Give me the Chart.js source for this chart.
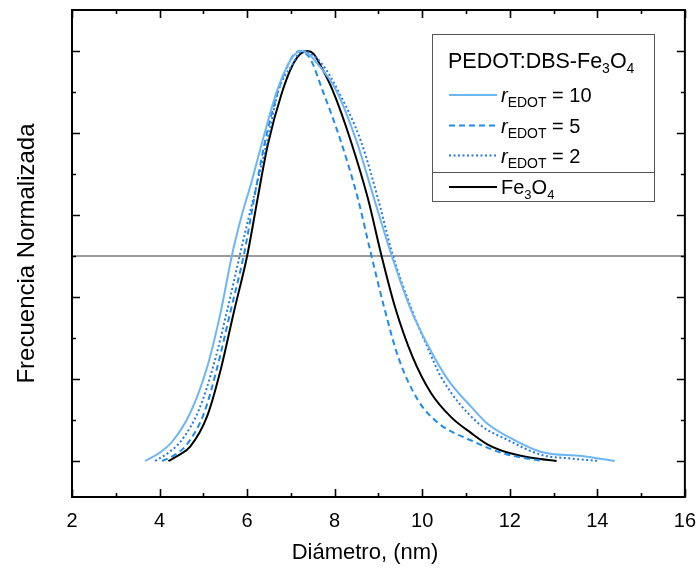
<!DOCTYPE html>
<html><head><meta charset="utf-8">
<script src="https://cdn.jsdelivr.net/npm/chart.js@4/dist/chart.umd.min.js"></script>
<style>html,body{margin:0;padding:0;background:#fff;}canvas{display:block;}</style>
</head><body>
<canvas id="c" width="696" height="575"></canvas>
<script>
// ---- data ----
const r10Diam = [3.67,4.00,4.31,4.70,5.09,5.39,5.66,5.88,6.10,6.35,6.69,6.95,7.10,7.25,7.40,7.60,8.03,8.50,8.90,9.29,9.72,10.15,10.59,11.12,11.50,11.96,12.72,13.64,14.40];
const r10Freq = [0,0.02,0.05,0.117,0.23,0.36,0.505,0.60,0.68,0.78,0.905,0.97,0.993,1.0,0.993,0.97,0.905,0.78,0.64,0.505,0.375,0.278,0.198,0.132,0.09,0.059,0.022,0.012,0];

const r5Diam = [4.06,4.35,4.62,5.01,5.31,5.61,5.93,6.16,6.39,6.70,6.95,7.08,7.22,7.34,7.45,7.72,8.14,8.53,8.83,9.13,9.45,9.90,10.36,11.12,11.81,12.30,12.77];
const r5Freq = [0,0.015,0.04,0.115,0.225,0.36,0.505,0.64,0.77,0.90,0.97,0.993,1.0,0.994,0.98,0.905,0.78,0.64,0.505,0.375,0.254,0.149,0.093,0.05,0.02,0.008,0];

const r2Diam = [3.90,4.20,4.50,4.90,5.25,5.55,5.84,6.05,6.28,6.50,6.72,7.05,7.17,7.30,7.45,7.70,8.07,8.60,8.99,9.32,9.74,10.15,10.43,11.27,11.96,12.72,13.40,14.05];
const r2Freq = [0,0.02,0.05,0.125,0.24,0.37,0.505,0.60,0.70,0.80,0.905,0.97,0.993,1.0,0.993,0.97,0.905,0.78,0.64,0.505,0.375,0.27,0.205,0.093,0.051,0.015,0.006,0];

const feDiam = [4.20,4.45,4.70,5.09,5.39,5.69,6.01,6.24,6.47,6.80,7.06,7.22,7.38,7.52,7.65,7.95,8.37,8.76,9.06,9.38,9.78,10.20,10.66,11.12,11.50,11.97,12.50,13.07];
const feFreq = [0,0.015,0.035,0.11,0.22,0.36,0.505,0.64,0.77,0.90,0.97,0.993,1.0,0.993,0.97,0.905,0.78,0.64,0.505,0.375,0.254,0.166,0.107,0.068,0.04,0.02,0.008,0];

const halfMaxLevel = 0.5;
const xMajorTicks = [2,4,6,8,10,12,14,16];
const xMinorTicks = [3,5,7,9,11,13,15];
const yMajorTicks = [0,0.2,0.4,0.6,0.8,1.0];
const yMinorTicks = [0.1,0.3,0.5,0.7,0.9];

const xTitle = 'Diámetro, (nm)';
const yTitle = 'Frecuencia Normalizada';
const legendTitle = [['PEDOT:DBS-Fe','n'],['3','s'],['O','n'],['4','s']];
const seriesLegend = [
  [['r','i'],['EDOT','e'],[' = 10','n']],
  [['r','i'],['EDOT','e'],[' = 5','n']],
  [['r','i'],['EDOT','e'],[' = 2','n']],
  [['Fe','n'],['3','s'],['O','n'],['4','s']]
];

const FONT = '"Liberation Sans", Arial, sans-serif';
const pts = (xs, ys) => xs.map((x, i) => ({x, y: ys[i]}));

const datasets = [
  {label:'rEDOT = 10', data: pts(r10Diam, r10Freq), borderColor:'#6db6f5', borderWidth:2, borderDash:[]},
  {label:'rEDOT = 5', data: pts(r5Diam, r5Freq), borderColor:'#1c8cf0', borderWidth:2, borderDash:[6,4]},
  {label:'rEDOT = 2', data: pts(r2Diam, r2Freq), borderColor:'#2a78dc', borderWidth:2, borderDash:[2,2.5]},
  {label:'Fe3O4', data: pts(feDiam, feFreq), borderColor:'#000000', borderWidth:2, borderDash:[]},
  {label:'half', data: [{x:xMajorTicks[0], y:halfMaxLevel},{x:xMajorTicks[xMajorTicks.length-1], y:halfMaxLevel}], borderColor:'#7a7a7a', borderWidth:1.5, borderDash:[]}
].map(d => Object.assign({showLine:true, pointRadius:0, fill:false, cubicInterpolationMode:'monotone'}, d));

function drawRich(ctx, x, y, parts, size) {
  for (const [t, s] of parts) {
    let dy = 0, f;
    if (s === 'i') f = 'italic ' + size + 'px ' + FONT;
    else if (s === 'e') { f = Math.round(size*0.72) + 'px ' + FONT; dy = 5; }
    else if (s === 's') { f = Math.round(size*0.66) + 'px ' + FONT; dy = 5; }
    else f = size + 'px ' + FONT;
    ctx.font = f;
    ctx.fillText(t, x, y + dy);
    x += ctx.measureText(t).width;
  }
}

const framePlugin = {
  id: 'frame',
  afterDatasetsDraw(chart) {
    const {ctx, chartArea: a, scales: {x, y}} = chart;
    ctx.save();
    ctx.strokeStyle = '#000'; ctx.lineWidth = 2;
    ctx.strokeRect(a.left, a.top, a.right - a.left, a.bottom - a.top);
    const tick = (v, len, axis) => {
      ctx.beginPath();
      if (axis === 'x') {
        const p = Math.round(x.getPixelForValue(v)) + 0.5;
        ctx.moveTo(p, a.bottom); ctx.lineTo(p, a.bottom - len);
        ctx.moveTo(p, a.top); ctx.lineTo(p, a.top + len);
      } else {
        const p = Math.round(y.getPixelForValue(v)) + 0.5;
        ctx.moveTo(a.left, p); ctx.lineTo(a.left + len, p);
        ctx.moveTo(a.right, p); ctx.lineTo(a.right - len, p);
      }
      ctx.stroke();
    };
    ctx.lineWidth = 1.6;
    xMajorTicks.forEach(v => tick(v, 8, 'x'));
    xMinorTicks.forEach(v => tick(v, 4, 'x'));
    yMajorTicks.forEach(v => tick(v, 8, 'y'));
    yMinorTicks.forEach(v => tick(v, 4, 'y'));

    // x axis title
    ctx.fillStyle = '#000'; ctx.textAlign = 'center'; ctx.textBaseline = 'middle';
    ctx.font = '22px ' + FONT;
    ctx.fillText(xTitle, 365, 553);

    // legend box
    const L = 432, T = 34, R = 654, B = 201, D = 172;
    ctx.fillStyle = '#fff';
    ctx.fillRect(L, T, R - L, B - T);
    ctx.strokeStyle = '#555'; ctx.lineWidth = 1;
    ctx.strokeRect(L + 0.5, T + 0.5, R - L, B - T);
    ctx.beginPath(); ctx.moveTo(L, D + 0.5); ctx.lineTo(R, D + 0.5); ctx.stroke();
    ctx.fillStyle = '#000'; ctx.textBaseline = 'alphabetic'; ctx.textAlign = 'left';
    drawRich(ctx, 448, 68, legendTitle, 21.5);
    const rows = [95, 125.5, 155.5, 187];
    rows.forEach((ly, i) => {
      const ds = chart.data.datasets[i];
      ctx.strokeStyle = ds.borderColor; ctx.lineWidth = ds.borderWidth;
      ctx.setLineDash(ds.borderDash);
      ctx.beginPath(); ctx.moveTo(449, ly); ctx.lineTo(497, ly); ctx.stroke();
      ctx.setLineDash([]);
      ctx.fillStyle = '#000';
      drawRich(ctx, 501, ly + 7, seriesLegend[i], 20);
    });
    ctx.restore();
  }
};

new Chart(document.getElementById('c'), {
  type: 'scatter',
  data: {datasets},
  options: {
    responsive: false, animation: false, devicePixelRatio: 1,
    layout: {padding: {top: 10, right: 2, left: 0, bottom: 0}},
    plugins: {legend: {display: false}, tooltip: {enabled: false}},
    scales: {
      x: {
        type: 'linear', min: 2, max: 16,
        grid: {display: false, drawTicks: true, tickLength: 12}, border: {display: false},
        ticks: {stepSize: 2, color: '#000', padding: 0, font: {family: FONT, size: 20}},
        title: {display: false},
        afterFit: s => { s.height = 78; }
      },
      y: {
        type: 'linear', min: -0.0878, max: 1.1,
        grid: {display: false, drawTicks: false}, border: {display: false},
        ticks: {display: false},
        title: {display: true, text: yTitle, color: '#000', font: {family: FONT, size: 24}, padding: {top: 13}},
        afterFit: s => { s.width = 72; }
      }
    }
  },
  plugins: [framePlugin]
});
</script>
</body></html>
